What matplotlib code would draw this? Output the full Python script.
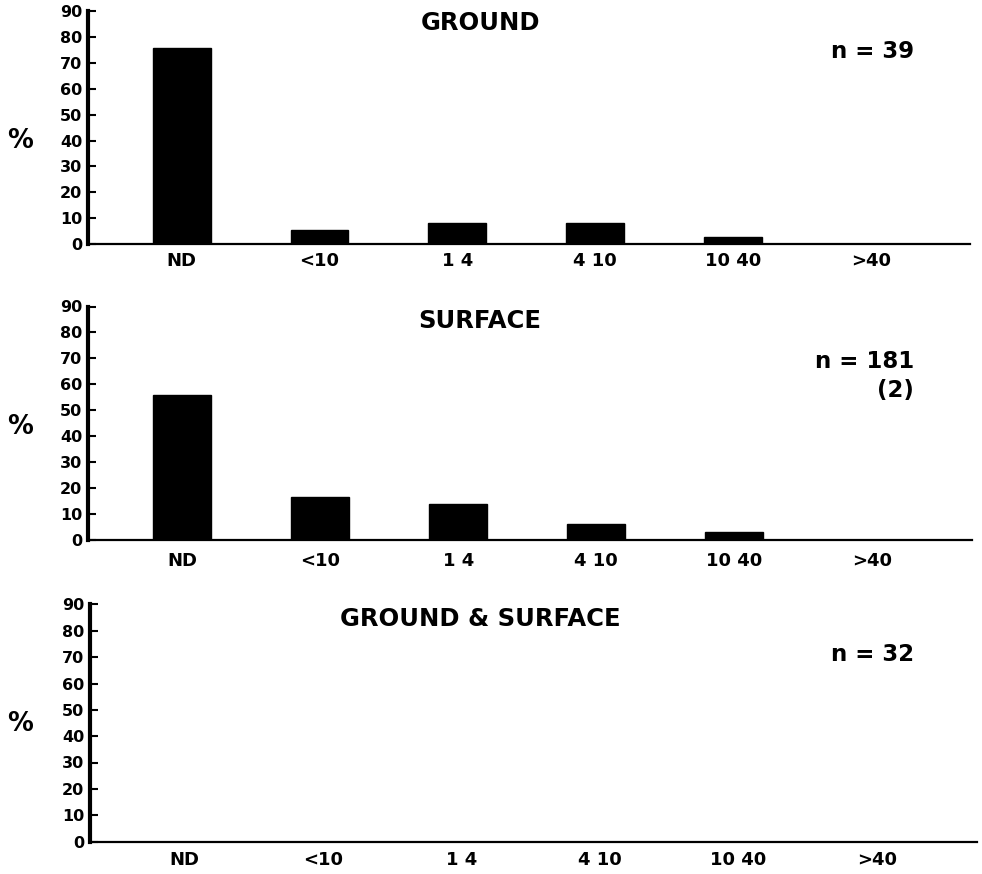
import numpy as np
import matplotlib.pyplot as plt

# concentration classes and percent of samples in each class
categories = ['ND', '<10', '1 4', '4 10', '10 40', '>40']
ground_pct = [76, 5.5, 8.3, 8.3, 2.6, 0]
surface_pct = [56, 16.4, 14, 6, 3, 0]
ground_surface_pct = [0, 0, 0, 0, 0, 0]
y_ticks = [0, 10, 20, 30, 40, 50, 60, 70, 80, 90]

panel_titles = ['GROUND', 'SURFACE', 'GROUND & SURFACE']
panel_counts = [['n = 39'], ['n = 181', '(2)'], ['n = 32']]

W, H = 982, 874


def fx(px):
    return px / W


def fy(py):
    return 1 - py / H


def draw_panel(ax, values, label_pad):
    x = np.arange(len(categories))
    ax.bar(x, values, width=0.42, color='black', edgecolor='black', zorder=2)
    ax.set_xlim(-0.68, 5.72)
    ax.set_ylim(0, 90)
    ax.set_xticks(x)
    ax.set_xticklabels(categories, fontsize=13, fontweight='bold')
    ax.set_yticks(y_ticks)
    ax.set_yticklabels([str(v) for v in y_ticks], fontsize=11.5, fontweight='bold')
    ax.tick_params(axis='x', length=0, pad=label_pad)
    ax.tick_params(axis='y', direction='in', length=6, width=1.5, pad=4)
    for side in ['top', 'right']:
        ax.spines[side].set_visible(False)
    ax.spines['left'].set_linewidth(3)
    ax.spines['bottom'].set_linewidth(1.6)
    ax.spines['left'].set_zorder(3)


plt.rcParams['font.family'] = ['DejaVu Sans']
fig = plt.figure(figsize=(9.82, 8.74), dpi=100)

# axes boxes in pixels: left, right, y of 0, y of 90
boxes = [(88, 970, 244, 11.5), (88, 972, 540, 306.5), (90, 977, 841.5, 604.5)]
data = [ground_pct, surface_pct, ground_surface_pct]
pads = [6, 9, 6.5]
title_base = [30, 328, 626]
count_base = [[58], [368, 397], [661]]
pct_base = [148, 434, 731]

for i in range(3):
    l, r, y0, y90 = boxes[i]
    ax = fig.add_axes([fx(l), fy(y0), fx(r - l), (y0 - y90) / H])
    draw_panel(ax, data[i], pads[i])
    fig.text(fx(480), fy(title_base[i]), panel_titles[i], ha='center',
             va='baseline', fontsize=17.5, fontweight='bold')
    for txt, yb in zip(panel_counts[i], count_base[i]):
        fig.text(fx(914), fy(yb), txt, ha='right', va='baseline',
                 fontsize=16.5, fontweight='bold')
    fig.text(fx(20), fy(pct_base[i]), '%', ha='center', va='baseline',
             fontsize=18.5, fontweight='bold')

fig.savefig('out.png', dpi=100)
